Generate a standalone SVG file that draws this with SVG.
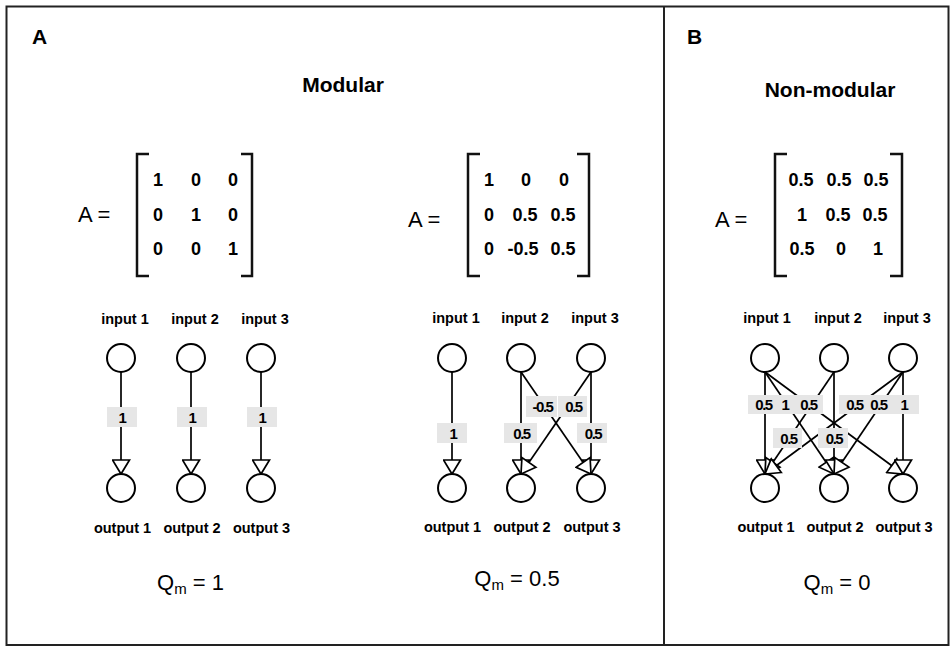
<svg xmlns="http://www.w3.org/2000/svg" width="952" height="649" viewBox="0 0 952 649">
<defs>
<style>
text{font-family:"Liberation Sans",Arial,sans-serif;fill:#000}
.h{font-size:21px;font-weight:bold}
.eq{font-size:22px}
.mx{font-size:18px;font-weight:bold;text-anchor:middle}
.nl{font-size:14.5px;font-weight:bold;text-anchor:middle}
.el{font-size:15px;font-weight:bold;text-anchor:middle;letter-spacing:-1.5px}
.q{font-size:22px;text-anchor:middle}
.br{fill:none;stroke:#111;stroke-width:2.5}
.n{fill:#fff;stroke:#000;stroke-width:2}
.e{stroke:#000;stroke-width:1.7;fill:none;marker-end:url(#arr)}
.lb{fill:#e6e6e6}
</style>
<marker id="arr" markerUnits="userSpaceOnUse" markerWidth="20" markerHeight="20" viewBox="-2 -2 20 20" refX="14" refY="8.5" orient="auto">
<path d="M0,0 L14,8.5 L0,17 Z" fill="#fff" stroke="#000" stroke-width="1.7"/>
</marker>
</defs>
<rect width="952" height="649" fill="#fff"/>
<g id="frame">
<rect x="6.5" y="6.5" width="942" height="638.5" fill="none" stroke="#222" stroke-width="2"/>
<line x1="664" y1="6.5" x2="664" y2="645" stroke="#222" stroke-width="2"/>
</g>
<g id="titles">
<text class="h" x="32" y="44">A</text>
<text class="h" x="687" y="44">B</text>
<text class="h" x="343" y="92" text-anchor="middle">Modular</text>
<text class="h" x="830" y="97" text-anchor="middle">Non-modular</text>
</g>
<g id="matrix1">
<text class="eq" x="78" y="222">A =</text>
<path class="br" d="M149,154 H137 V276 H149"/>
<path class="br" d="M241,154 H252 V276 H241"/>
<text class="mx" x="158" y="186">1</text><text class="mx" x="196" y="186">0</text><text class="mx" x="233" y="186">0</text>
<text class="mx" x="158" y="221">0</text><text class="mx" x="196" y="221">1</text><text class="mx" x="233" y="221">0</text>
<text class="mx" x="158" y="255">0</text><text class="mx" x="196" y="255">0</text><text class="mx" x="233" y="255">1</text>
</g>
<g id="matrix2">
<text class="eq" x="408" y="227">A =</text>
<path class="br" d="M480,154 H468 V276 H480"/>
<path class="br" d="M577,154 H589 V276 H577"/>
<text class="mx" x="489" y="186">1</text><text class="mx" x="526" y="186">0</text><text class="mx" x="564" y="186">0</text>
<text class="mx" x="489" y="221">0</text><text class="mx" x="525" y="221">0.5</text><text class="mx" x="563" y="221">0.5</text>
<text class="mx" x="489" y="255">0</text><text class="mx" x="523" y="255">-0.5</text><text class="mx" x="563" y="255">0.5</text>
</g>
<g id="matrix3">
<text class="eq" x="715" y="227">A =</text>
<path class="br" d="M787,154 H775 V276 H787"/>
<path class="br" d="M890,154 H902 V276 H890"/>
<text class="mx" x="801" y="186">0.5</text><text class="mx" x="839" y="186">0.5</text><text class="mx" x="876" y="186">0.5</text>
<text class="mx" x="802" y="221">1</text><text class="mx" x="838" y="221">0.5</text><text class="mx" x="875" y="221">0.5</text>
<text class="mx" x="802" y="255">0.5</text><text class="mx" x="841" y="255">0</text><text class="mx" x="878" y="255">1</text>
</g>
<g id="connectors">
<!-- network 1 -->
<line class="e" x1="121" y1="372" x2="121" y2="474"/>
<line class="e" x1="191" y1="372" x2="191" y2="474"/>
<line class="e" x1="261" y1="372" x2="261" y2="474"/>
<rect class="lb" x="107" y="407" width="30" height="20"/><text class="el" x="122" y="422.5">1</text>
<rect class="lb" x="177" y="407" width="30" height="20"/><text class="el" x="192" y="422.5">1</text>
<rect class="lb" x="247" y="407" width="30" height="20"/><text class="el" x="262" y="422.5">1</text>
<!-- network 2 -->
<line class="e" x1="452" y1="372" x2="452" y2="474"/>
<line class="e" x1="521" y1="372" x2="521" y2="474"/>
<line class="e" x1="591" y1="372" x2="591" y2="474"/>
<line class="e" x1="521" y1="372" x2="591" y2="474"/>
<line class="e" x1="591" y1="372" x2="521" y2="474"/>
<rect class="lb" x="437" y="423" width="30" height="20"/><text class="el" x="453" y="438.5">1</text>
<rect class="lb" x="504" y="423" width="33" height="20"/><text class="el" x="521.5" y="438.5">0.5</text>
<rect class="lb" x="577" y="423" width="30" height="20"/><text class="el" x="593" y="438.5">0.5</text>
<rect class="lb" x="526" y="396" width="31" height="21"/><text class="el" x="542.5" y="412">-0.5</text>
<rect class="lb" x="558" y="396" width="29" height="21"/><text class="el" x="573.5" y="412">0.5</text>
<!-- network 3 -->
<line class="e" x1="765" y1="372" x2="765" y2="474"/>
<line class="e" x1="765" y1="372" x2="834" y2="474"/>
<line class="e" x1="765" y1="372" x2="903" y2="474"/>
<line class="e" x1="834" y1="372" x2="765" y2="474"/>
<line class="e" x1="834" y1="372" x2="834" y2="474"/>
<line class="e" x1="903" y1="372" x2="765" y2="474"/>
<line class="e" x1="903" y1="372" x2="834" y2="474"/>
<line class="e" x1="903" y1="372" x2="903" y2="474"/>
<rect class="lb" x="748" y="395" width="30" height="19"/>
<rect class="lb" x="770" y="395" width="30" height="19"/>
<rect class="lb" x="793" y="395" width="30" height="19"/>
<rect class="lb" x="839" y="395" width="30" height="19"/>
<rect class="lb" x="863" y="395" width="30" height="19"/>
<rect class="lb" x="888" y="395" width="31" height="19"/>
<rect class="lb" x="773" y="428" width="29" height="20"/>
<rect class="lb" x="818" y="428" width="30" height="20"/>
<text class="el" x="763.5" y="410">0.5</text>
<text class="el" x="785" y="410">1</text>
<text class="el" x="808.5" y="410">0.5</text>
<text class="el" x="854.5" y="410">0.5</text>
<text class="el" x="878.5" y="410">0.5</text>
<text class="el" x="904" y="410">1</text>
<text class="el" x="788.5" y="443.5">0.5</text>
<text class="el" x="834" y="443.5">0.5</text>
</g>
<g id="n1-in1"><circle class="n" cx="121" cy="358" r="14"/><text class="nl" x="125" y="324">input 1</text></g>
<g id="n1-in2"><circle class="n" cx="191" cy="358" r="14"/><text class="nl" x="195" y="324">input 2</text></g>
<g id="n1-in3"><circle class="n" cx="261" cy="358" r="14"/><text class="nl" x="265" y="324">input 3</text></g>
<g id="n1-out1"><circle class="n" cx="121" cy="488" r="14"/><text class="nl" x="122.5" y="533">output 1</text></g>
<g id="n1-out2"><circle class="n" cx="191" cy="488" r="14"/><text class="nl" x="192" y="533">output 2</text></g>
<g id="n1-out3"><circle class="n" cx="261" cy="488" r="14"/><text class="nl" x="261.5" y="533">output 3</text></g>
<g id="n2-in1"><circle class="n" cx="452" cy="358" r="14"/><text class="nl" x="456" y="323">input 1</text></g>
<g id="n2-in2"><circle class="n" cx="521" cy="358" r="14"/><text class="nl" x="525" y="323">input 2</text></g>
<g id="n2-in3"><circle class="n" cx="591" cy="358" r="14"/><text class="nl" x="595" y="323">input 3</text></g>
<g id="n2-out1"><circle class="n" cx="452" cy="488" r="14"/><text class="nl" x="452.5" y="532">output 1</text></g>
<g id="n2-out2"><circle class="n" cx="521" cy="488" r="14"/><text class="nl" x="522" y="532">output 2</text></g>
<g id="n2-out3"><circle class="n" cx="591" cy="488" r="14"/><text class="nl" x="592" y="532">output 3</text></g>
<g id="n3-in1"><circle class="n" cx="765" cy="358" r="14"/><text class="nl" x="767" y="323">input 1</text></g>
<g id="n3-in2"><circle class="n" cx="834" cy="358" r="14"/><text class="nl" x="838" y="323">input 2</text></g>
<g id="n3-in3"><circle class="n" cx="903" cy="358" r="14"/><text class="nl" x="907" y="323">input 3</text></g>
<g id="n3-out1"><circle class="n" cx="765" cy="488" r="14"/><text class="nl" x="766" y="532">output 1</text></g>
<g id="n3-out2"><circle class="n" cx="834" cy="488" r="14"/><text class="nl" x="835" y="532">output 2</text></g>
<g id="n3-out3"><circle class="n" cx="903" cy="488" r="14"/><text class="nl" x="904" y="532">output 3</text></g>
<g id="scores">
<text class="q" x="190.5" y="590">Q<tspan font-size="15" dy="4">m</tspan><tspan dy="-4"> = 1</tspan></text>
<text class="q" x="517" y="586">Q<tspan font-size="15" dy="4">m</tspan><tspan dy="-4"> = 0.5</tspan></text>
<text class="q" x="837" y="590">Q<tspan font-size="15" dy="4">m</tspan><tspan dy="-4"> = 0</tspan></text>
</g>
</svg>
